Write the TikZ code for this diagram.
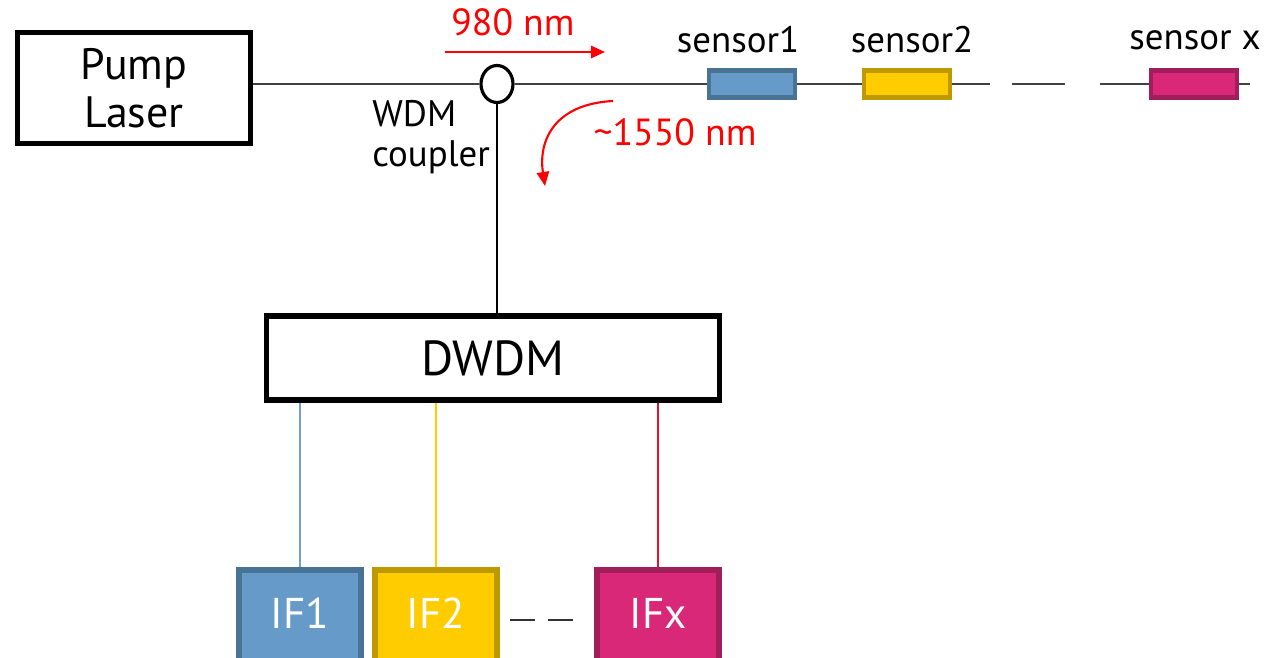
\documentclass[tikz,border=0pt]{standalone}
\usepackage{fontspec}
\setmainfont{PT Sans}
\usepackage{tikz}
\usetikzlibrary{shapes.geometric,arrows.meta}
\definecolor{BlueFill}{RGB}{102,155,201}
\definecolor{BlueLine}{RGB}{72,115,148}
\definecolor{YelFill} {RGB}{255,204,0}
\definecolor{YelLine} {RGB}{191,153,0}
\definecolor{MagFill} {RGB}{217,40,120}
\definecolor{MagLine} {RGB}{160,30,90}
\definecolor{ChRed}   {RGB}{220,20,50}
\definecolor{ChBlue}  {RGB}{110,160,210}
\definecolor{AnnRed}  {RGB}{255,0,0}
\tikzset{
  nd_dev/.style={rectangle,draw=black,line width=3.2pt,fill=white,align=center},
  nd_wdm/.style={ellipse,draw=black,line width=1.8pt,fill=white,minimum width=0.64cm,minimum height=0.74cm,inner sep=0pt},
  nd_sens/.style={rectangle,line width=2.6pt,minimum width=1.72cm,minimum height=0.54cm,inner sep=0pt},
  nd_if/.style={rectangle,line width=3pt,minimum width=2.44cm,minimum height=2.0cm,text=white,text depth=8pt,font=\fontsize{24.5}{28}\selectfont},
  nd_lbl/.style={font=\fontsize{21}{24}\selectfont,inner sep=0pt},
  nd_ann/.style={text=AnnRed,font=\fontsize{21.5}{24}\selectfont,inner sep=0pt},
  fib/.style={black!75,line width=0.9pt},
  arr/.style={-{Triangle[length=8pt,width=7pt]},AnnRed,line width=1.2pt},
}
\begin{document}
\begin{tikzpicture}[x=0.02cm,y=-0.02cm]
\useasboundingbox (0,0) rectangle (1272,658);
% source and coupler
\node[nd_dev,minimum width=4.66cm,minimum height=2.22cm,font=\fontsize{25}{27}\selectfont] at (134,88)(PL){Pump\\Laser};
\node[nd_wdm] at (497,84)(WDM){};
\node[font=\fontsize{21}{23}\selectfont,align=left,anchor=west,inner sep=0pt] at (372,137)(WL){WDM\\coupler};
% sensors
\node[nd_sens,draw=BlueLine,fill=BlueFill] at (752,84)(S1){};
\node[nd_sens,draw=YelLine,fill=YelFill] at (907,84)(S2){};
\node[nd_sens,draw=MagLine,fill=MagFill] at (1194,84)(SX){};
\node[nd_lbl] at (738,40)(L1){sensor1};
\node[nd_lbl] at (912,40)(L2){sensor2};
\node[nd_lbl] at (1195,40)(LX){sensor x};
\coordinate (G1) at (990,84);
\coordinate (G2) at (1012,84);
\coordinate (G3) at (1065,84);
\coordinate (G4) at (1100,84);
\coordinate (GE) at (1250,84);
% DWDM and filters
\node[nd_dev,minimum width=9.06cm,minimum height=1.68cm,font=\fontsize{28}{30}\selectfont] at (493,358)(DW){DWDM};
\node[nd_if,draw=BlueLine,fill=BlueFill] at (300,620)(IF1){IF1};
\node[nd_if,draw=YelLine,fill=YelFill] at (436,620)(IF2){IF2};
\node[nd_if,draw=MagLine,fill=MagFill] at (658,620)(IFX){IFx};
\coordinate (D1) at (510,620);
\coordinate (D2) at (573,620);
% annotations
\node[nd_ann] at (513,22)(T980){980 nm};
\node[nd_ann] at (675,132)(T1550){\textasciitilde1550 nm};
\coordinate (A1) at (445,52);
\coordinate (A2) at (605,52);
\coordinate (B1) at (613,101);
\coordinate (B2) at (545,186);
% fibres
\draw[fib](WDM.west -| PL.east)--(WDM.west);
\draw[fib](WDM.east)--(S1.west);
\draw[fib](S1.east)--(S2.west);
\draw[fib](S2.east)--(G1);
\draw[fib](G2)--(G3);
\draw[fib](G4)--(SX.west);
\draw[fib](SX.east)--(GE);
\draw[black,line width=1.1pt](WDM.south)--(DW.north -| WDM.south);
\draw[ChBlue,line width=0.8pt](DW.south -| IF1.north)--(IF1.north);
\draw[YelFill,line width=0.8pt](DW.south -| IF2.north)--(IF2.north);
\draw[ChRed,line width=0.8pt](DW.south -| IFX.north)--(IFX.north);
\draw[black!80,line width=1pt,dash pattern=on 14.2pt off 7.4pt](D1)--(D2);
% arrows
\draw[arr](A1)--(A2);
\draw[arr](B1) .. controls (555,104) and (538,140) .. (B2);
\end{tikzpicture}
\end{document}
